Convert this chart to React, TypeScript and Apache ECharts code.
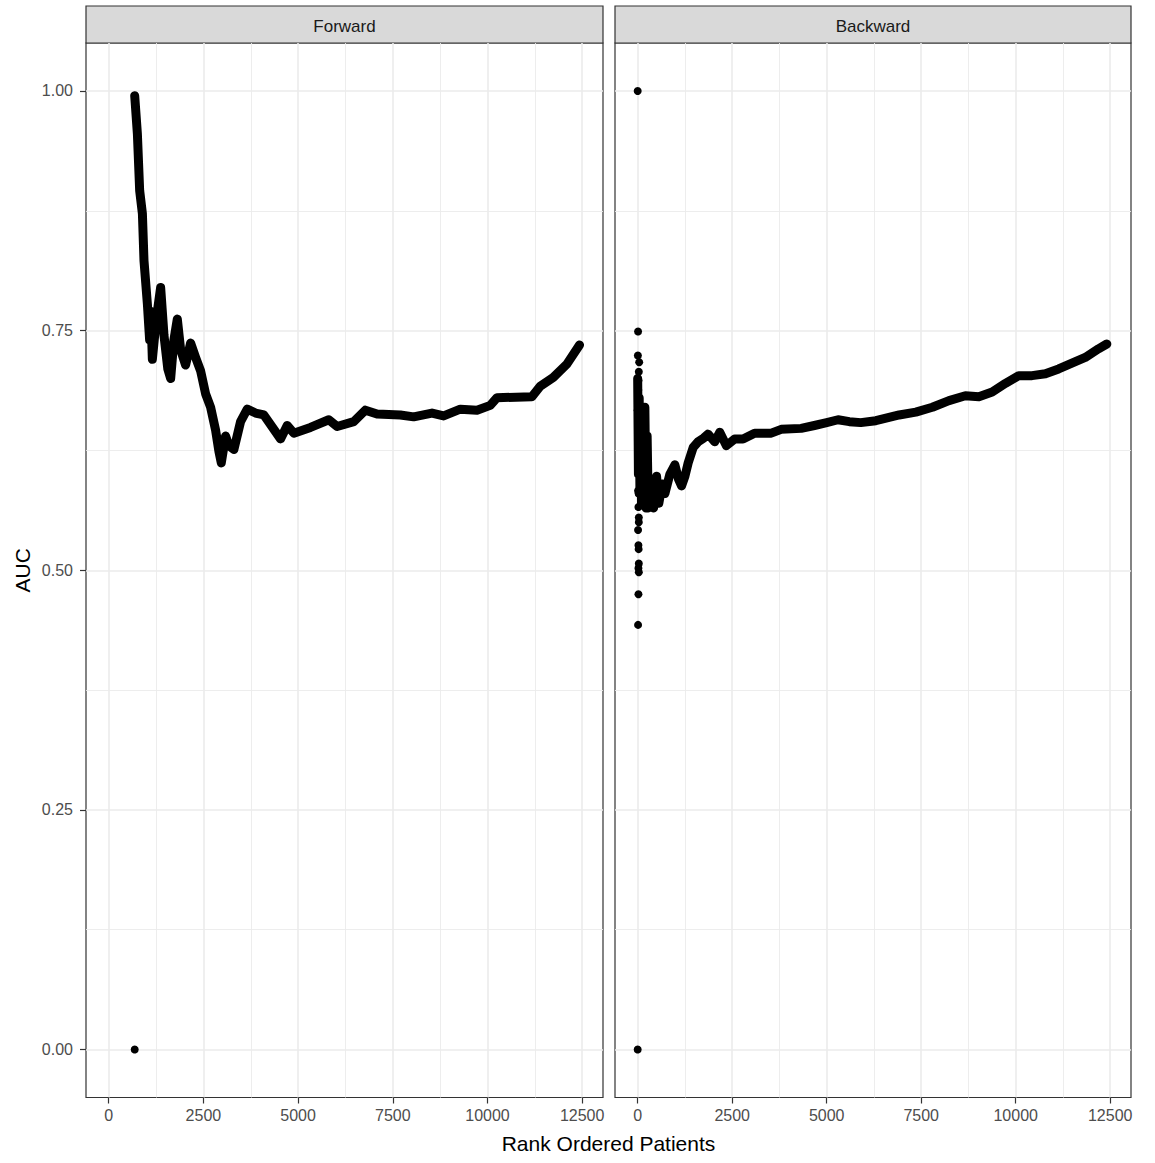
import React, { useEffect, useRef } from "react";
import * as echarts from "echarts";

const FONT = "'Liberation Sans', Arial, sans-serif";

const panelNames = ["Forward", "Backward"];
const xMajorTicks = [0, 2500, 5000, 7500, 10000, 12500];
const xMinorTicks = [1250, 3750, 6250, 8750, 11250];
const yMajorTicks = [0, 0.25, 0.5, 0.75, 1.0];
const yMinorTicks = [0.125, 0.375, 0.625, 0.875];
const xLimits = [-600, 13050];
const yLimits = [-0.05, 1.05];

// Forward: trace of AUC values
const forwardX = [686, 757, 817, 889, 931, 1020, 1080, 1110, 1152, 1250, 1371, 1459, 1560, 1635, 1720, 1811, 1899, 2030, 2162, 2294, 2426, 2558, 2690, 2822, 2909, 2972, 3085, 3173, 3305, 3481, 3657, 3876, 4096, 4536, 4712, 4887, 5327, 5810, 6031, 6470, 6777, 7085, 7700, 8051, 8535, 8842, 9282, 9723, 10073, 10250, 11173, 11392, 11735, 12096, 12430];
const forwardY = [0.995, 0.955, 0.896, 0.872, 0.823, 0.778, 0.740, 0.770, 0.720, 0.760, 0.795, 0.745, 0.710, 0.700, 0.740, 0.762, 0.730, 0.714, 0.737, 0.722, 0.708, 0.684, 0.670, 0.646, 0.624, 0.612, 0.640, 0.630, 0.626, 0.655, 0.668, 0.664, 0.662, 0.637, 0.651, 0.643, 0.649, 0.657, 0.650, 0.655, 0.667, 0.663, 0.662, 0.660, 0.664, 0.661, 0.668, 0.667, 0.672, 0.680, 0.681, 0.692, 0.701, 0.715, 0.735];
// Forward: isolated points
const forwardDotX = [686];
const forwardDotY = [0.0];

// Backward: trace of AUC values
const backwardX = [0, 20, 40, 60, 80, 100, 130, 160, 190, 220, 250, 280, 350, 420, 500, 560, 650, 720, 850, 984, 1080, 1160, 1250, 1336, 1467, 1599, 1750, 1863, 2039, 2171, 2347, 2566, 2786, 3093, 3533, 3797, 4324, 4675, 5000, 5300, 5600, 5900, 6300, 6917, 7357, 7795, 8235, 8668, 9026, 9377, 9731, 10081, 10432, 10786, 11136, 11487, 11840, 12190, 12410];
const backwardY = [0.700, 0.600, 0.680, 0.580, 0.670, 0.570, 0.665, 0.575, 0.670, 0.565, 0.640, 0.565, 0.595, 0.565, 0.598, 0.570, 0.590, 0.580, 0.600, 0.610, 0.595, 0.588, 0.598, 0.612, 0.628, 0.634, 0.638, 0.642, 0.634, 0.644, 0.630, 0.637, 0.637, 0.643, 0.643, 0.647, 0.648, 0.651, 0.654, 0.657, 0.655, 0.654, 0.656, 0.662, 0.665, 0.670, 0.677, 0.682, 0.681, 0.686, 0.695, 0.703, 0.703, 0.705, 0.710, 0.716, 0.722, 0.731, 0.736];
// Backward: isolated points
const backwardDotX = [0, 0, 10, 5, 40, 30, 20, 15, 0, 10, 20, 10, 25, 20, 30, 30, 10, 20, 25, 30, 20, 30, 20, 10];
const backwardDotY = [1.0, 0.0, 0.749, 0.724, 0.717, 0.707, 0.698, 0.688, 0.667, 0.608, 0.604, 0.583, 0.580, 0.566, 0.555, 0.550, 0.542, 0.526, 0.522, 0.507, 0.502, 0.498, 0.475, 0.443];

const zip = (xs: number[], ys: number[]) => xs.map((x, i) => [x, ys[i]]);

const GRID_COLOR = "#EBEBEB";
const DARK = "#333333";

function makeMajorX(gridIndex: number) {
  return {
    type: "value",
    gridIndex,
    min: xLimits[0],
    max: xLimits[1],
    position: "bottom",
    axisLine: { show: false, onZero: false },
    axisTick: {
      show: true,
      length: 6,
      customValues: xMajorTicks,
      lineStyle: { color: DARK, width: 1.2 },
    },
    axisLabel: {
      show: true,
      customValues: xMajorTicks,
      margin: 10,
      color: "#4D4D4D",
      fontSize: 16,
      fontFamily: FONT,
      formatter: (v: number) => String(v),
    },
    splitLine: { show: true, lineStyle: { color: GRID_COLOR, width: 1.6 } },
  };
}

function makeMinorX(gridIndex: number) {
  return {
    type: "value",
    gridIndex,
    min: xLimits[0],
    max: xLimits[1],
    position: "top",
    axisLine: { show: false, onZero: false },
    axisTick: { show: false, customValues: xMinorTicks },
    axisLabel: { show: false, customValues: xMinorTicks },
    splitLine: { show: true, lineStyle: { color: GRID_COLOR, width: 0.9 } },
  };
}

function makeMajorY(gridIndex: number, showLabels: boolean) {
  return {
    type: "value",
    gridIndex,
    min: yLimits[0],
    max: yLimits[1],
    position: "left",
    axisLine: { show: false, onZero: false },
    axisTick: {
      show: showLabels,
      length: 6,
      customValues: yMajorTicks,
      lineStyle: { color: DARK, width: 1.2 },
    },
    axisLabel: {
      show: showLabels,
      customValues: yMajorTicks,
      margin: 13,
      color: "#4D4D4D",
      fontSize: 16,
      fontFamily: FONT,
      formatter: (v: number) => v.toFixed(2),
    },
    splitLine: { show: true, lineStyle: { color: GRID_COLOR, width: 1.6 } },
  };
}

function makeMinorY(gridIndex: number) {
  return {
    type: "value",
    gridIndex,
    min: yLimits[0],
    max: yLimits[1],
    position: "right",
    axisLine: { show: false, onZero: false },
    axisTick: { show: false, customValues: yMinorTicks },
    axisLabel: { show: false, customValues: yMinorTicks },
    splitLine: { show: true, lineStyle: { color: GRID_COLOR, width: 0.9 } },
  };
}

const PANELS = [
  { left: 86, width: 517 },
  { left: 615, width: 516 },
];
const PANEL_TOP = 43;
const PANEL_HEIGHT = 1054.5;
const STRIP_TOP = 6;

export default function App() {
  const ref = useRef<HTMLDivElement>(null);

  useEffect(() => {
    if (!ref.current) return;
    const chart = echarts.init(ref.current, undefined, { renderer: "svg" });

    const traceStyle = {
      color: "#000000",
      width: 9,
      cap: "round",
      join: "round",
    };

    const option = {
      animation: false,
      backgroundColor: "#FFFFFF",
      grid: PANELS.map((p) => ({
        left: p.left,
        top: PANEL_TOP,
        width: p.width,
        height: PANEL_HEIGHT,
        show: true,
        backgroundColor: "#FFFFFF",
        borderColor: DARK,
        borderWidth: 1.2,
        containLabel: false,
      })),
      xAxis: [makeMajorX(0), makeMajorX(1), makeMinorX(0), makeMinorX(1)],
      yAxis: [makeMajorY(0, true), makeMajorY(1, false), makeMinorY(0), makeMinorY(1)],
      series: [
        {
          type: "line",
          name: "Forward",
          xAxisIndex: 0,
          yAxisIndex: 0,
          data: zip(forwardX, forwardY),
          symbol: "none",
          lineStyle: traceStyle,
          z: 3,
        },
        {
          type: "scatter",
          name: "Forward points",
          xAxisIndex: 0,
          yAxisIndex: 0,
          data: zip(forwardDotX, forwardDotY),
          symbolSize: 8,
          itemStyle: { color: "#000000", opacity: 1 },
          z: 4,
        },
        {
          type: "line",
          name: "Backward",
          xAxisIndex: 1,
          yAxisIndex: 1,
          data: zip(backwardX, backwardY),
          symbol: "none",
          lineStyle: traceStyle,
          z: 3,
        },
        {
          type: "scatter",
          name: "Backward points",
          xAxisIndex: 1,
          yAxisIndex: 1,
          data: zip(backwardDotX, backwardDotY),
          symbolSize: 8,
          itemStyle: { color: "#000000", opacity: 1 },
          z: 4,
        },
      ],
      graphic: [
        ...PANELS.map((p, i) => ({
          type: "group",
          children: [
            {
              type: "rect",
              shape: { x: p.left, y: STRIP_TOP, width: p.width, height: PANEL_TOP - STRIP_TOP },
              style: { fill: "#D9D9D9", stroke: DARK, lineWidth: 1.2 },
            },
            {
              type: "text",
              x: p.left + p.width / 2,
              y: (STRIP_TOP + PANEL_TOP) / 2 + 1.5,
              style: {
                text: panelNames[i],
                fill: "#1A1A1A",
                fontSize: 17,
                fontFamily: FONT,
                align: "center",
                verticalAlign: "middle",
              },
            },
          ],
        })),
        {
          type: "text",
          x: (PANELS[0].left + PANELS[1].left + PANELS[1].width) / 2,
          y: 1143,
          style: {
            text: "Rank Ordered Patients",
            fill: "#000000",
            fontSize: 21,
            fontFamily: FONT,
            align: "center",
            verticalAlign: "middle",
          },
        },
        {
          type: "text",
          x: 22,
          y: PANEL_TOP + PANEL_HEIGHT / 2,
          rotation: Math.PI / 2,
          style: {
            text: "AUC",
            fill: "#000000",
            fontSize: 21,
            fontFamily: FONT,
            align: "center",
            verticalAlign: "middle",
          },
        },
      ],
    };

    chart.setOption(option as any);
    return () => chart.dispose();
  }, []);

  return <div ref={ref} style={{ width: 1155, height: 1163, position: "absolute", left: 0, top: 0 }} />;
}
